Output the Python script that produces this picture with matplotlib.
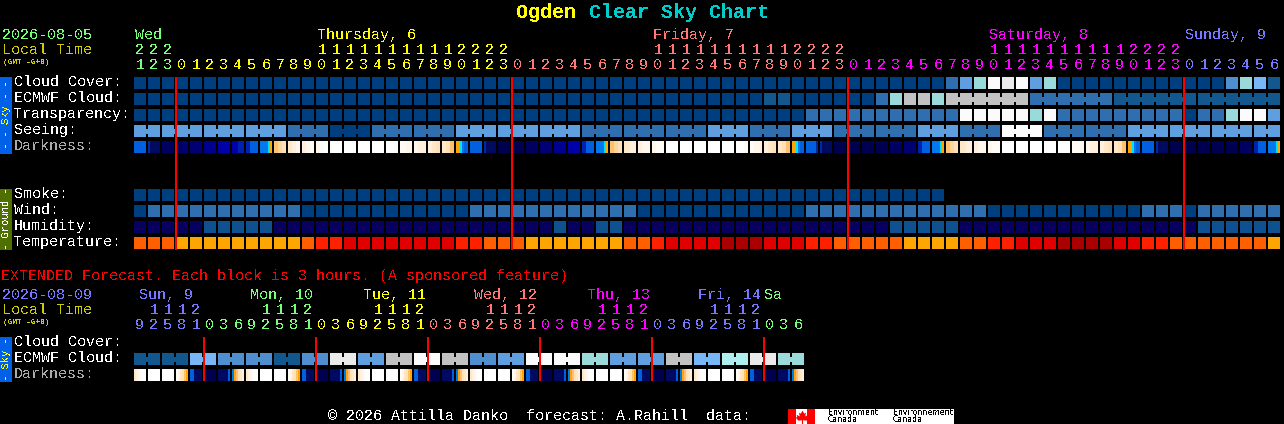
import matplotlib
matplotlib.use("Agg")
import matplotlib.pyplot as plt

plt.rcParams['font.family'] = 'Liberation Mono'
plt.rcParams['text.antialiased'] = False

# cloud style levels, 0 = clear .. 10 = overcast
CLOUD_COLORS = ['#003F7F', '#13578F', '#2F6FAF', '#4F8FCF', '#5F9FDF', '#77B7F7',
                '#9ADADA', '#AEEEEE', '#C2C2C2', '#EAEAEA', '#FBFBFB']
HUMIDITY_COLORS = ['#08005F', '#0F5090']
TEMP_COLORS = ['#FFA500', '#FF5F00', '#FF2000', '#E00000', '#AA0000']

DARK_COLORS = {'a': '#000050', 'b': '#000060', 'c': '#000072', 'd': '#000090', 'e': '#0000A8',
               'f': '#0020B0', 'g': '#0060E0', 'h': '#0078F0', 'i': '#00E0FF', 'j': '#FFA500',
               'k': '#FFC070', 'l': '#FFD498', 'm': '#FFE0B8', 'n': '#FFE8C8', 'o': '#FFF0DE',
               'p': '#FFF6EC', 'q': '#FFFBF6', 'r': '#FFFFFF', 's': '#0028A0', 't': '#000A60'}

START_HOUR = 21
CLOUD_COVER = [0]*58 + [2, 4, 6, 10, 9, 10, 4, 6] + [0]*9 + [0, 0, 0, 3, 6, 5, 1]
ECMWF_CLOUD = [0]*45 + [1, 1] + [0]*6 + [2, 6, 8, 8, 6] + [8]*6 + [2]*6 + [1]*12
TRANSPARENCY = [0]*48 + [2]*11 + [10]*5 + [6, 10] + [2]*9 + [0, 2, 2, 6, 10, 10, 4]
SEEING = [4]*11 + [2]*3 + [0]*3 + [2]*6 + [4]*9 + [2]*9 + [4]*3 + [2]*3 + [4]*3 + [2]*6 + [4]*3 + [2]*3 + [10]*3 + [2]*6 + [4]*11
SMOKE = [0]*58
WIND = [0] + [2]*11 + [0]*12 + [2]*12 + [0]*12 + [2]*13 + [0]*11 + [2]*3 + [0] + [2]*6
HUMIDITY = [0]*5 + [1]*5 + [0]*20 + [1] + [0]*2 + [1]*2 + [0]*19 + [1]*5 + [0]*17 + [1]*6
TEMPERATURE = [1]*3 + [0]*9 + [1] + [2]*2 + [3]*8 + [2]*2 + [1]*3 + [0]*7 + [1]*2 + [2] + [3]*4 + [4]*3 + [3]*3 \
    + [2]*2 + [1]*5 + [0]*4 + [1]*2 + [2]*2 + [3]*3 + [4]*4 + [3]*2 + [2]*2 + [1]*7 + [0]

DARKNESS = [
    'gggggg', 'sttttt', 'bbbbbb', 'bbbccc', 'cccccc', 'dddddd', 'eeeeee', 'eeefff', 'ffgggg', 'hhhhij',
    'kkllmm', 'nnoopp', 'ooppqq', 'ppqqrr', 'qrrrrr', 'rrrrrr', 'rrrrrr', 'rrrrrr', 'rrrrqq', 'qqqppp',
    'ppoooo', 'oonnmm', 'nnmmkk', 'jjihgg', 'gggggg', 'sttttt', 'aaaaaa', 'aaaaaa', 'bbbbbb', 'cccccc',
    'dddddd', 'eeeeee', 'ffgggg', 'hhhhij', 'kkllmm', 'nnnooo', 'oopppp', 'ppqqqq', 'rrrrrr', 'rrrrrr',
    'rrrrrr', 'rrrrrr', 'rrrrrr', 'rrrrqq', 'qqpppo', 'oonnmm', 'nnmmkk', 'jjihgg', 'gggggs', 'sttttt',
    'aaaaaa', 'aaaaaa', 'aaaaaa', 'aaaaaa', 'bbbbbb', 'cccccc', 'ffgggg', 'hhhhij', 'kkllmm', 'nnnooo',
    'oopppp', 'ppqqqq', 'rrrrrr', 'rrrrrr', 'rrrrrr', 'rrrrrr', 'rrrrrr', 'qqqqpp', 'ppoooo', 'oonnmm',
    'nnmmkk', 'jjihgg', 'gggggg', 'sttttt', 'aaaaaa', 'aaaaaa', 'aaaaaa', 'aaaaaa', 'aaaaaa', 'bbbbbb',
    'ffgggg', 'hhhhij']

# blocks that are drawn joined, as (first, last)
SEEING_GROUPS = [(0, 1)] + [(i, i + 2) for i in range(2, 80, 3)] + [(80, 81)]
ECMWF_GROUPS = [(58, 63), (64, 69), (70, 75), (76, 81)]

DAY_NAMES = ['Wed', 'Thursday, 6', 'Friday, 7', 'Saturday, 8', 'Sunday, 9']
DAY_COLS = [0, 13, 37, 61, 75]
DAY_COLORS = ['#77FF77', '#FFFF00', '#FF7777', '#FF00FF', '#7777FF']
HOUR_DAY_START = [0, 3, 27, 51, 75]

# extended forecast, 3 hour blocks
EXT_START_HOUR = 9
EXT_ECMWF = [1, 1, 1, 1, 5, 5, 3, 3, 3, 3, 1, 1, 3, 3, 9, 9, 4, 4, 8, 8, 10, 10, 8, 8,
             3, 3, 4, 4, 10, 10, 10, 10, 6, 6, 4, 4, 4, 4, 8, 8, 5, 5, 7, 7, 9, 9, 6, 6]
EXT_DARK_DAY = ['nopqrr', 'rrrrrr', 'rrrrrr', 'qpnmkj', 'ggtttt', 'aaaaaa', 'tttttg', 'hjkmno']
EXT_DARKNESS = EXT_DARK_DAY * 6
EXT_DAY_NAMES = ['Sun, 9', 'Mon, 10', 'Tue, 11', 'Wed, 12', 'Thu, 13', 'Fri, 14', 'Sa']
EXT_DAY_X = [139, 250, 363, 474, 587, 698, 764]
EXT_DAY_COLORS = ['#7777FF', '#77FF77', '#FFFF00', '#FF7777', '#FF00FF', '#7777FF', '#77FF77']
EXT_DAY_START = [0, 5, 13, 21, 29, 37, 45]

ROW_LABELS = ['Cloud Cover:', 'ECMWF Cloud:', 'Transparency:', 'Seeing:', 'Darkness:']
GROUND_LABELS = ['Smoke:', 'Wind:', 'Humidity:', 'Temperature:']
EXT_LABELS = ['Cloud Cover:', 'ECMWF Cloud:', 'Darkness:']

X0 = 134
STEP = 14
BLOCK = 12
Y_SKY = 77
Y_GROUND = 189
Y_EXT = 337
ROW = 16
FONT = 10.8

MAPLE = [(0, 1), (0.25, 0.55), (0.5, 0.7), (0.4, 0.15), (0.85, 0.4), (0.75, 0.05), (1, 0), (0.6, -0.45),
         (0.08, -0.4), (0.08, -1), (-0.08, -1), (-0.08, -0.4), (-0.6, -0.45), (-1, 0), (-0.75, 0.05),
         (-0.85, 0.4), (-0.4, 0.15), (-0.5, 0.7), (-0.25, 0.55)]


def block_x(i):
    return X0 + STEP * i


def draw_row(ax, values, colors, y, groups=()):
    xs = [block_x(i) for i in range(len(values))]
    cols = [colors[v] for v in values]
    ax.bar(xs, BLOCK, width=BLOCK, bottom=y, color=cols, align='edge', linewidth=0, antialiased=False)
    # little bridge between joined blocks
    for first, last in groups:
        for i in range(first, last):
            ax.bar(block_x(i) + BLOCK, 5, width=STEP - BLOCK, bottom=y + 3.5, color=colors[values[i]],
                   align='edge', linewidth=0, antialiased=False)


def draw_darkness(ax, codes, y):
    for i, code in enumerate(codes):
        width = BLOCK / len(code)
        xs = [block_x(i) + n * width for n in range(len(code))]
        ax.bar(xs, BLOCK, width=width, bottom=y, color=[DARK_COLORS[c] for c in code],
               align='edge', linewidth=0, antialiased=False)


def draw_labels(ax, labels, y0, grays=('Darkness:',)):
    for n, label in enumerate(labels):
        color = '#AAAAAA' if label in grays else 'white'
        ax.text(14, y0 + ROW * n + 5, label, color=color, fontsize=FONT, ha='left', va='center')


def draw_hours(ax, start_hour, step, count, starts, colors, y_tens, y_ones):
    for i in range(count):
        hour = (start_hour + i * step) % 24
        day = [n for n, s in enumerate(starts) if s <= i][-1]
        x = block_x(i) + BLOCK / 2
        if hour >= 10:
            ax.text(x, y_tens, str(hour // 10), color=colors[day], fontsize=FONT, ha='center', va='center')
        ax.text(x, y_ones, str(hour % 10), color=colors[day], fontsize=FONT, ha='center', va='center')


def side_bar(ax, y0, y1, color, text, text_color):
    ax.bar(0, y1 - y0, width=12, bottom=y0, color=color, align='edge', linewidth=0, antialiased=False)
    ax.text(6, (y0 + y1) / 2 - 0.5, text, color=text_color, fontsize=7.6, rotation=90, ha='center', va='center')


def red_lines(ax, columns, y0, y1):
    xs = [block_x(i) - 1 for i in columns]
    ax.bar(xs, y1 - y0, width=2, bottom=y0, color='#FF0000', align='edge', linewidth=0, antialiased=False)


def main():
    fig = plt.figure(figsize=(12.84, 4.24), dpi=100, facecolor='black')
    ax = fig.add_axes([0, 0, 1, 1])
    ax.set_xlim(0, 1284)
    ax.set_ylim(424, 0)
    ax.axis('off')

    # title
    ax.text(516, 12, 'Ogden', color='#FFFF00', fontsize=14.4, fontweight='bold', ha='left', va='center')
    ax.text(589, 12, 'Clear Sky Chart', color='#00CCCC', fontsize=14.4, fontweight='bold', ha='left', va='center')

    # main header
    ax.text(2, 35, '2026-08-05', color='#77FF77', fontsize=FONT, ha='left', va='center')
    ax.text(2, 50, 'Local Time', color='#CCCC00', fontsize=FONT, ha='left', va='center')
    ax.text(3, 62, '(GMT -6+0)', color='#CCCC00', fontsize=5.6, fontweight='bold', ha='left', va='center')
    for name, col, color in zip(DAY_NAMES, DAY_COLS, DAY_COLORS):
        ax.text(block_x(col) + 1, 35, name, color=color, fontsize=FONT, ha='left', va='center')
    draw_hours(ax, START_HOUR, 1, len(DARKNESS), HOUR_DAY_START, DAY_COLORS, 50, 65)

    # sky rows
    side_bar(ax, Y_SKY, 154, '#0060E8', '- - Sky - -', '#FFFF00')
    draw_labels(ax, ROW_LABELS, Y_SKY)
    draw_row(ax, CLOUD_COVER, CLOUD_COLORS, Y_SKY)
    draw_row(ax, ECMWF_CLOUD, CLOUD_COLORS, Y_SKY + ROW, ECMWF_GROUPS)
    draw_row(ax, TRANSPARENCY, CLOUD_COLORS, Y_SKY + 2 * ROW)
    draw_row(ax, SEEING, CLOUD_COLORS, Y_SKY + 3 * ROW, SEEING_GROUPS)
    draw_darkness(ax, DARKNESS, Y_SKY + 4 * ROW)

    # ground rows
    side_bar(ax, Y_GROUND, 250, '#4F6F00', '- Ground -', 'white')
    draw_labels(ax, GROUND_LABELS, Y_GROUND)
    draw_row(ax, SMOKE, CLOUD_COLORS, Y_GROUND)
    draw_row(ax, WIND, CLOUD_COLORS, Y_GROUND + ROW)
    draw_row(ax, HUMIDITY, HUMIDITY_COLORS, Y_GROUND + 2 * ROW)
    draw_row(ax, TEMPERATURE, TEMP_COLORS, Y_GROUND + 3 * ROW)

    # midnight lines
    midnights = [i for i in range(len(DARKNESS)) if (START_HOUR + i) % 24 == 0]
    red_lines(ax, midnights, Y_SKY, 250)

    # extended forecast
    ax.text(1, 276, 'EXTENDED Forecast. Each block is 3 hours. (A sponsored feature)', color='#FF0000',
            fontsize=FONT, ha='left', va='center')
    ax.text(2, 295, '2026-08-09', color='#7777FF', fontsize=FONT, ha='left', va='center')
    ax.text(2, 310, 'Local Time', color='#CCCC00', fontsize=FONT, ha='left', va='center')
    ax.text(3, 322, '(GMT -6+0)', color='#CCCC00', fontsize=5.6, fontweight='bold', ha='left', va='center')
    for name, x, color in zip(EXT_DAY_NAMES, EXT_DAY_X, EXT_DAY_COLORS):
        ax.text(x, 295, name, color=color, fontsize=FONT, ha='left', va='center')
    draw_hours(ax, EXT_START_HOUR, 3, len(EXT_ECMWF), EXT_DAY_START, EXT_DAY_COLORS, 310, 325)

    side_bar(ax, Y_EXT, 382, '#0060E8', '- Sky -', '#FFFF00')
    draw_labels(ax, EXT_LABELS, Y_EXT)
    draw_row(ax, EXT_ECMWF, CLOUD_COLORS, Y_EXT + ROW, [(k, k + 1) for k in range(0, len(EXT_ECMWF), 2)])
    draw_darkness(ax, EXT_DARKNESS, Y_EXT + 2 * ROW)
    ext_midnights = [k for k in range(len(EXT_ECMWF)) if (EXT_START_HOUR + 3 * k) % 24 == 0]
    red_lines(ax, ext_midnights, Y_EXT, 381)

    # footer
    ax.text(328, 416, '\u00a9 2026 Attilla Danko  forecast: A.Rahill  data:', color='white', fontsize=FONT,
            ha='left', va='center')
    ax.bar(788, 15, width=166, bottom=409, color='white', align='edge', linewidth=0, antialiased=False)
    ax.bar([788, 807], 15, width=8, bottom=409, color='#FF0000', align='edge', linewidth=0, antialiased=False)
    ax.plot([801.5], [416.5], marker=MAPLE, color='#FF0000', markersize=10, markeredgewidth=0)
    for x, word in zip([828, 893], ['Environment', 'Environnement']):
        ax.text(x, 412.5, word, color='black', family='DejaVu Sans', fontsize=5.6, ha='left', va='center')
        ax.text(x, 420, 'Canada', color='black', family='DejaVu Sans', fontsize=5.6, ha='left', va='center')

    fig.savefig('out.png', dpi=100, facecolor='black')
    plt.close(fig)


if __name__ == "__main__":
    main()
